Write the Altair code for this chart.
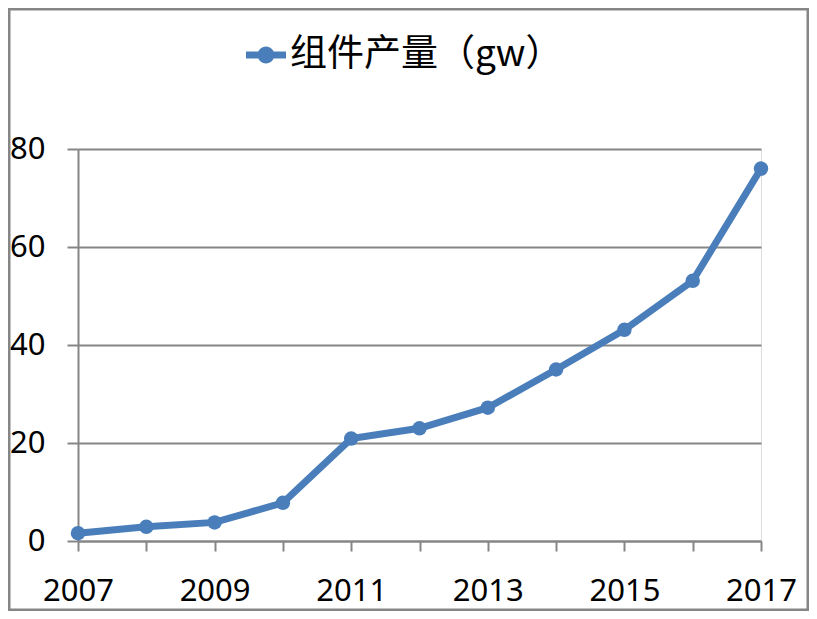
import altair as alt
import pandas as pd

years = [2007, 2008, 2009, 2010, 2011, 2012, 2013, 2014, 2015, 2016, 2017]
values = [1.6, 2.9, 3.8, 7.8, 20.9, 23.0, 27.2, 35.0, 43.1, 53.1, 76.0]
series_name = "组件产量（gw）"
y_ticks = [0, 20, 40, 60, 80]

df = pd.DataFrame({"year": years, "value": values, "series": [series_name] * len(years)})

BLUE = "#4A7EBB"
GRAY = "#868686"
W, H = 683, 392
PAD = {"left": 70, "top": 141, "right": 48, "bottom": 70}

legend_path = ("M-1,-0.175L1,-0.175L1,0.175L-1,0.175Z "
               "M-0.42,0A0.42,0.42 0 1,1 0.42,0A0.42,0.42 0 1,1 -0.42,0Z")

line = alt.Chart(df).mark_line(
    strokeWidth=7,
    point=alt.OverlayMarkDef(filled=True, size=210, color=BLUE, opacity=1),
).encode(
    x=alt.X("year:Q",
            scale=alt.Scale(domain=[2007, 2017], nice=False, zero=False),
            axis=alt.Axis(values=years, format="d",
                          labelExpr="datum.value % 2 == 1 ? datum.label : ''",
                          title=None, grid=False, tickSize=10, tickWidth=2,
                          tickColor=GRAY, domainColor=GRAY, domainWidth=2,
                          labelFont="Noto Sans", labelFontSize=31,
                          labelColor="black", labelPadding=25,
                          labelFlush=False, labelOverlap=False)),
    y=alt.Y("value:Q",
            scale=alt.Scale(domain=[0, 80], nice=False),
            axis=alt.Axis(values=y_ticks, title=None, grid=True,
                          gridColor=GRAY, gridWidth=2,
                          tickSize=11, tickWidth=2, tickColor=GRAY,
                          domainColor=GRAY, domainWidth=2,
                          labelFont="Noto Sans", labelFontSize=31,
                          labelColor="black", labelPadding=22)),
    color=alt.Color("series:N",
                    scale=alt.Scale(range=[BLUE]),
                    legend=alt.Legend(title=None, orient="none",
                                      legendX=168, legendY=-114,
                                      symbolType=legend_path, symbolSize=1600,
                                      symbolFillColor=BLUE, symbolStrokeWidth=0,
                                      labelFont="Noto Sans CJK SC",
                                      labelFontSize=37, labelColor="black",
                                      labelOffset=4, labelLimit=600)),
)

border = alt.Chart(pd.DataFrame({"a": [0]})).mark_rect(
    fill=None, stroke=GRAY, strokeWidth=3
).encode(
    x=alt.value(-69), x2=alt.value(W + PAD["right"] - 1),
    y=alt.value(-140), y2=alt.value(H + PAD["bottom"] - 1),
)

chart = alt.layer(line, border).properties(
    width=W, height=H,
    autosize=alt.AutoSizeParams(type="none"),
    padding=PAD,
).configure_view(stroke=None).configure(background="white")

chart.save("out.html", embed_options={"renderer": "svg", "actions": False})
